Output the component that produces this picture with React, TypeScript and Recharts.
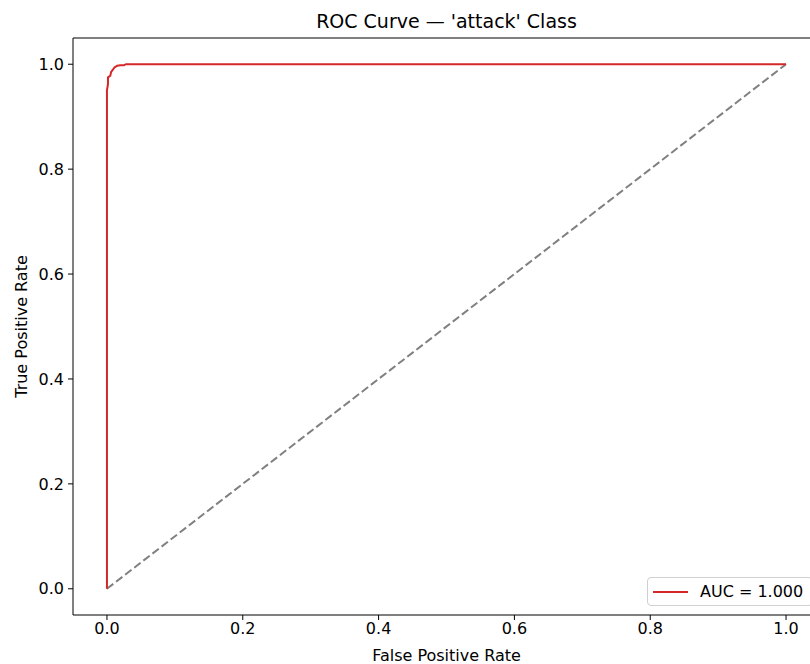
import React from 'react';
import { LineChart, Line, XAxis, YAxis, ReferenceLine } from 'recharts';

// ROC curve points (false positive rate, true positive rate)
const fpr = [0, 0, 0.0015, 0.0015, 0.005, 0.006, 0.009, 0.011, 0.015, 0.02, 0.025, 0.028, 1];
const tpr = [0, 0.95, 0.962, 0.975, 0.978, 0.985, 0.99, 0.994, 0.997, 0.998, 0.998, 1.0, 1];

// chance diagonal
const diagX = [0, 1];
const diagY = [0, 1];

const ticks = [0, 0.2, 0.4, 0.6, 0.8, 1.0];
const aucLabel = 'AUC = 1.000';

const rocData = fpr.map((x, i) => ({ x, y: tpr[i] }));
const diagData = diagX.map((x, i) => ({ x, y: diagY[i] }));

const FONT = '"DejaVu Sans", sans-serif';
const RED = '#d62728';
const DOMAIN: [number, number] = [-0.05, 1.05];

export default function App() {
  const tickStyle = { fontSize: 16, fill: '#000', fontFamily: FONT };
  return (
    <div
      style={{
        position: 'absolute',
        left: 0,
        top: 0,
        width: 810,
        height: 664,
        overflow: 'hidden',
        background: '#fff',
      }}
    >
      <div
        style={{
          position: 'absolute',
          left: 0,
          width: 893,
          top: 10,
          textAlign: 'center',
          fontFamily: FONT,
          fontSize: 19,
          color: '#000',
        }}
      >
        ROC Curve — 'attack' Class
      </div>
      <LineChart width={830} height={664} margin={{ top: 38, right: 10, bottom: 0, left: 13 }}>
        <XAxis
          type="number"
          dataKey="x"
          domain={DOMAIN}
          ticks={ticks}
          tickFormatter={(v: number) => v.toFixed(1)}
          height={49}
          tickSize={5}
          tickMargin={3}
          tick={tickStyle}
          axisLine={{ stroke: '#000', strokeWidth: 1 }}
          tickLine={{ stroke: '#000' }}
          label={{ value: 'False Positive Rate', position: 'insideBottom', offset: 3, style: { fontSize: 16, fill: '#000', fontFamily: FONT } }}
        />
        <YAxis
          type="number"
          domain={DOMAIN}
          ticks={ticks}
          tickFormatter={(v: number) => v.toFixed(1)}
          width={60}
          tickSize={5}
          tickMargin={4}
          tick={tickStyle}
          axisLine={{ stroke: '#000', strokeWidth: 1 }}
          tickLine={{ stroke: '#000' }}
          label={{ value: 'True Positive Rate', angle: -90, position: 'insideLeft', offset: 8, style: { fontSize: 16, fill: '#000', fontFamily: FONT, textAnchor: 'middle' } }}
        />
        {/* top and right spines */}
        <ReferenceLine y={DOMAIN[1]} stroke="#000" strokeWidth={1} />
        <ReferenceLine x={DOMAIN[1]} stroke="#000" strokeWidth={1} />
        <Line
          data={diagData}
          dataKey="y"
          type="linear"
          stroke="#808080"
          strokeWidth={2}
          strokeDasharray="8 3.5"
          dot={false}
          isAnimationActive={false}
        />
        <Line
          data={rocData}
          dataKey="y"
          type="linear"
          stroke={RED}
          strokeWidth={2}
          dot={false}
          isAnimationActive={false}
        />
      </LineChart>
      <div
        style={{
          position: 'absolute',
          left: 647,
          top: 577,
          display: 'flex',
          alignItems: 'center',
          height: 29,
          width: 166,
          boxSizing: 'border-box',
          border: '1px solid #d0d0d0',
          borderRadius: 4,
          background: 'rgba(255,255,255,0.85)',
          fontFamily: FONT,
          fontSize: 16,
          color: '#000',
        }}
      >
        <div style={{ width: 35, height: 2, background: RED, marginLeft: 5, marginRight: 12 }} />
        <span>{aucLabel}</span>
      </div>
    </div>
  );
}
